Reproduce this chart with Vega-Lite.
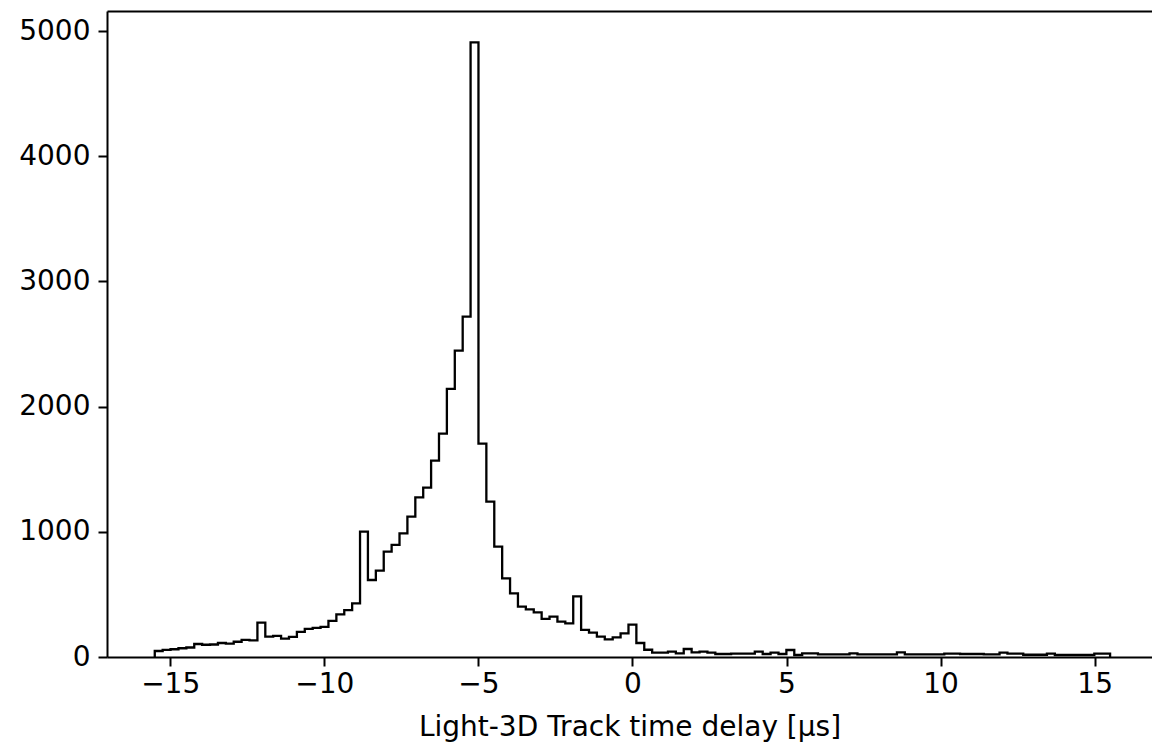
{
  "$schema": "https://vega.github.io/schema/vega-lite/v6.json",
  "width": 1045,
  "height": 646,
  "autosize": {"type": "none"},
  "padding": {"left": 107, "top": 11, "right": 0, "bottom": 89},
  "background": "white",
  "config": {
    "font": "DejaVu Sans",
    "view": {"stroke": null},
    "axis": {
      "domain": true,
      "domainColor": "black",
      "domainWidth": 2,
      "grid": false,
      "tickColor": "black",
      "tickWidth": 2,
      "tickSize": 9,
      "labelColor": "black",
      "labelFontSize": 28,
      "labelFont": "DejaVu Sans",
      "titleFont": "DejaVu Sans",
      "titleFontSize": 28,
      "titleFontWeight": "normal",
      "titleColor": "black"
    }
  },
  "data": {
    "values": [
      {"i": -1, "x": -15.5, "count": 0},
      {"i": 0, "x": -15.5, "count": 48},
      {"i": 1, "x": -15.244, "count": 57},
      {"i": 2, "x": -14.988, "count": 62},
      {"i": 3, "x": -14.731, "count": 70},
      {"i": 4, "x": -14.475, "count": 76},
      {"i": 5, "x": -14.219, "count": 104},
      {"i": 6, "x": -13.963, "count": 98},
      {"i": 7, "x": -13.707, "count": 100},
      {"i": 8, "x": -13.45, "count": 112},
      {"i": 9, "x": -13.194, "count": 107},
      {"i": 10, "x": -12.938, "count": 122},
      {"i": 11, "x": -12.682, "count": 136},
      {"i": 12, "x": -12.426, "count": 133},
      {"i": 13, "x": -12.169, "count": 274},
      {"i": 14, "x": -11.913, "count": 162},
      {"i": 15, "x": -11.657, "count": 168},
      {"i": 16, "x": -11.401, "count": 146},
      {"i": 17, "x": -11.145, "count": 160},
      {"i": 18, "x": -10.888, "count": 200},
      {"i": 19, "x": -10.632, "count": 224},
      {"i": 20, "x": -10.376, "count": 232},
      {"i": 21, "x": -10.12, "count": 240},
      {"i": 22, "x": -9.864, "count": 288},
      {"i": 23, "x": -9.607, "count": 341},
      {"i": 24, "x": -9.351, "count": 375},
      {"i": 25, "x": -9.095, "count": 429},
      {"i": 26, "x": -8.839, "count": 1001},
      {"i": 27, "x": -8.583, "count": 615},
      {"i": 28, "x": -8.326, "count": 690},
      {"i": 29, "x": -8.07, "count": 841},
      {"i": 30, "x": -7.814, "count": 895},
      {"i": 31, "x": -7.558, "count": 988},
      {"i": 32, "x": -7.302, "count": 1121},
      {"i": 33, "x": -7.045, "count": 1275},
      {"i": 34, "x": -6.789, "count": 1353},
      {"i": 35, "x": -6.533, "count": 1568},
      {"i": 36, "x": -6.277, "count": 1784},
      {"i": 37, "x": -6.021, "count": 2141},
      {"i": 38, "x": -5.764, "count": 2447},
      {"i": 39, "x": -5.508, "count": 2718},
      {"i": 40, "x": -5.252, "count": 4910},
      {"i": 41, "x": -4.996, "count": 1704},
      {"i": 42, "x": -4.74, "count": 1241},
      {"i": 43, "x": -4.483, "count": 881},
      {"i": 44, "x": -4.227, "count": 628},
      {"i": 45, "x": -3.971, "count": 509},
      {"i": 46, "x": -3.715, "count": 402},
      {"i": 47, "x": -3.459, "count": 381},
      {"i": 48, "x": -3.202, "count": 357},
      {"i": 49, "x": -2.946, "count": 304},
      {"i": 50, "x": -2.69, "count": 322},
      {"i": 51, "x": -2.434, "count": 282},
      {"i": 52, "x": -2.178, "count": 269},
      {"i": 53, "x": -1.921, "count": 485},
      {"i": 54, "x": -1.665, "count": 216},
      {"i": 55, "x": -1.409, "count": 194},
      {"i": 56, "x": -1.153, "count": 162},
      {"i": 57, "x": -0.897, "count": 141},
      {"i": 58, "x": -0.64, "count": 157},
      {"i": 59, "x": -0.384, "count": 189},
      {"i": 60, "x": -0.128, "count": 258},
      {"i": 61, "x": 0.128, "count": 112},
      {"i": 62, "x": 0.384, "count": 58},
      {"i": 63, "x": 0.64, "count": 35},
      {"i": 64, "x": 0.897, "count": 35},
      {"i": 65, "x": 1.153, "count": 43},
      {"i": 66, "x": 1.409, "count": 29},
      {"i": 67, "x": 1.665, "count": 64},
      {"i": 68, "x": 1.921, "count": 37},
      {"i": 69, "x": 2.178, "count": 43},
      {"i": 70, "x": 2.434, "count": 35},
      {"i": 71, "x": 2.69, "count": 24},
      {"i": 72, "x": 2.946, "count": 24},
      {"i": 73, "x": 3.202, "count": 27},
      {"i": 74, "x": 3.459, "count": 27},
      {"i": 75, "x": 3.715, "count": 27},
      {"i": 76, "x": 3.971, "count": 43},
      {"i": 77, "x": 4.227, "count": 24},
      {"i": 78, "x": 4.483, "count": 35},
      {"i": 79, "x": 4.74, "count": 24},
      {"i": 80, "x": 4.996, "count": 56},
      {"i": 81, "x": 5.252, "count": 16},
      {"i": 82, "x": 5.508, "count": 29},
      {"i": 83, "x": 5.764, "count": 29},
      {"i": 84, "x": 6.021, "count": 21},
      {"i": 85, "x": 6.277, "count": 21},
      {"i": 86, "x": 6.533, "count": 21},
      {"i": 87, "x": 6.789, "count": 21},
      {"i": 88, "x": 7.045, "count": 29},
      {"i": 89, "x": 7.302, "count": 21},
      {"i": 90, "x": 7.558, "count": 21},
      {"i": 91, "x": 7.814, "count": 21},
      {"i": 92, "x": 8.07, "count": 21},
      {"i": 93, "x": 8.326, "count": 21},
      {"i": 94, "x": 8.583, "count": 37},
      {"i": 95, "x": 8.839, "count": 21},
      {"i": 96, "x": 9.095, "count": 21},
      {"i": 97, "x": 9.351, "count": 21},
      {"i": 98, "x": 9.607, "count": 21},
      {"i": 99, "x": 9.864, "count": 21},
      {"i": 100, "x": 10.12, "count": 27},
      {"i": 101, "x": 10.376, "count": 27},
      {"i": 102, "x": 10.632, "count": 24},
      {"i": 103, "x": 10.888, "count": 24},
      {"i": 104, "x": 11.145, "count": 24},
      {"i": 105, "x": 11.401, "count": 21},
      {"i": 106, "x": 11.657, "count": 21},
      {"i": 107, "x": 11.913, "count": 35},
      {"i": 108, "x": 12.169, "count": 27},
      {"i": 109, "x": 12.426, "count": 27},
      {"i": 110, "x": 12.682, "count": 18},
      {"i": 111, "x": 12.938, "count": 18},
      {"i": 112, "x": 13.194, "count": 18},
      {"i": 113, "x": 13.45, "count": 27},
      {"i": 114, "x": 13.707, "count": 16},
      {"i": 115, "x": 13.963, "count": 16},
      {"i": 116, "x": 14.219, "count": 16},
      {"i": 117, "x": 14.475, "count": 16},
      {"i": 118, "x": 14.731, "count": 16},
      {"i": 119, "x": 14.988, "count": 27},
      {"i": 120, "x": 15.244, "count": 27},
      {"i": 121, "x": 15.5, "count": 0}
    ]
  },
  "layer": [
    {
      "mark": {"type": "line", "interpolate": "step-after", "color": "black", "strokeWidth": 2.3, "strokeJoin": "miter", "clip": true},
      "encoding": {
        "x": {
          "field": "x",
          "type": "quantitative",
          "scale": {"domain": [-17.05, 16.86], "nice": false, "zero": false},
          "axis": {"values": [-15, -10, -5, 0, 5, 10, 15], "title": "Light-3D Track time delay [μs]", "labelPadding": 4, "titlePadding": 15}
        },
        "y": {
          "field": "count",
          "type": "quantitative",
          "scale": {"domain": [0, 5160], "nice": false},
          "axis": {"values": [0, 1000, 2000, 3000, 4000, 5000], "format": "d", "title": null, "labelPadding": 8}
        },
        "order": {"field": "i", "type": "quantitative"}
      }
    },
    {
      "mark": {"type": "line", "opacity": 0},
      "encoding": {
        "x": {
          "field": "x",
          "type": "quantitative",
          "axis": {"orient": "top", "labels": false, "ticks": false, "title": null, "domain": true}
        },
        "y": {"field": "count", "type": "quantitative"},
        "order": {"field": "i", "type": "quantitative"}
      }
    }
  ],
  "resolve": {"axis": {"x": "independent"}}
}
